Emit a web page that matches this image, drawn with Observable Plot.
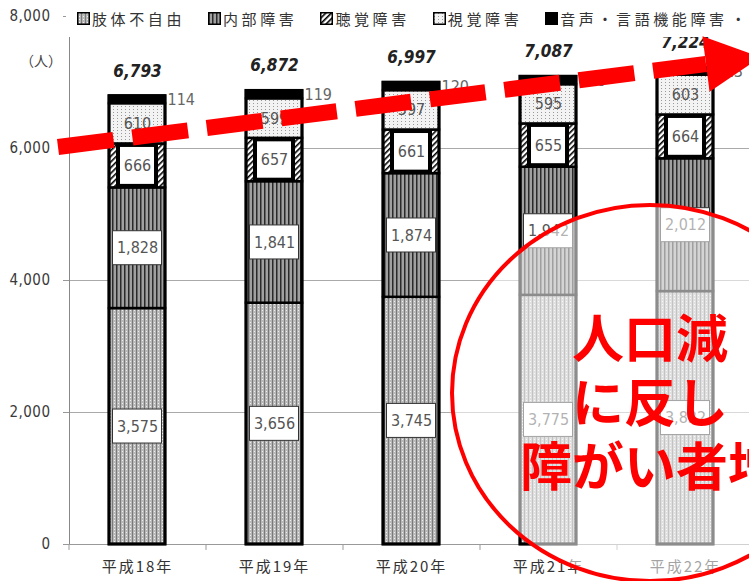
<!DOCTYPE html>
<html>
<head>
<meta charset="utf-8">
<script src="https://cdn.jsdelivr.net/npm/d3@7"></script>
<script src="https://cdn.jsdelivr.net/npm/@observablehq/plot@0.6"></script>
<style>
  body { margin: 0; background: #fff; }
  #wrap { position: relative; width: 749px; height: 581px; overflow: hidden; background: #fff; }
  #legend { position: absolute; top: 0; left: 66px; width: 683px; height: 37px; background: #fff;
    display: flex; align-items: center; padding-left: 11px; box-sizing: border-box;
    font-family: "Noto Sans CJK JP", sans-serif; font-size: 15px; letter-spacing: 3.6px; color: #333; white-space: nowrap; }
  #legend .item { display: flex; align-items: center; margin-right: 23px; }
  #legend svg { margin-right: 2px; display: block; }
  #unit { position: absolute; left: 20px; top: 50px; font-family: "Noto Sans CJK JP", sans-serif; font-size: 14px; color: #444; }
  #overlay { position: absolute; left: 0; top: 0; pointer-events: none; }
</style>
</head>
<body>
<div id="wrap"></div>
<script>
// ---- data ----
const years = ["平成18年", "平成19年", "平成20年", "平成21年", "平成22年"];
const categories = ["肢体不自由", "内部障害", "聴覚障害", "視覚障害", "音声・言語機能障害"];
const limb = [3575, 3656, 3745, 3775, 3832];
const internal = [1828, 1841, 1874, 1942, 2012];
const hearing = [666, 657, 661, 655, 664];
const visual = [610, 599, 597, 595, 603];
const speech = [114, 119, 120, 120, 113];
const totals = [6793, 6872, 6997, 7087, 7224];
const yTicks = [0, 2000, 4000, 6000, 8000];
const unitLabel = "（人）";
const annotationLines = ["人口減", "に反し", "障がい者増"];

// ---- build table ----
const series = [limb, internal, hearing, visual, speech];
const patterns = ["url(#pLimb)", "url(#pInt)", "url(#pHear)", "url(#pVis)", "#000"];
const rows = years.flatMap((yr, i) => {
  let acc = 0;
  return series.map((s, j) => {
    const v = s[i];
    const r = {year: yr, cat: categories[j], value: v, y1: acc, y2: acc + v, mid: acc + v / 2};
    acc += v;
    return r;
  });
});
const totalRows = years.map((yr, i) => ({year: yr, total: totals[i]}));
const fmt = d3.format(",");
const numFont = '"Liberation Sans Narrow", "DejaVu Sans Condensed", "Liberation Sans", sans-serif';
const cjkFont = '"Noto Sans CJK JP", sans-serif';

const segMarks = categories.map((c, j) =>
  Plot.barY(rows.filter(d => d.cat === c), {
    x: "year", y1: "y1", y2: "y2", fill: patterns[j], stroke: "#000", strokeWidth: 2.5
  })
);

const svg = Plot.plot({
  width: 749, height: 581,
  marginLeft: 69, marginRight: 0, marginTop: 16, marginBottom: 37,
  style: {fontFamily: numFont, background: "#fff"},
  x: {domain: years, range: [69, 754], paddingInner: 0.59, paddingOuter: 0.295},
  y: {domain: [0, 8000]},
  marks: [
    Plot.ruleY(yTicks.filter(t => t > 0 && t < 8000), {stroke: "#aaa", strokeWidth: 1}),
    Plot.axisY({ticks: yTicks, tickSize: 6, tickFormat: () => "", stroke: "#999", label: null}),
    Plot.axisY({ticks: yTicks, tickSize: 0, tickPadding: 19, tickFormat: fmt, fill: "#3a3a3a",
      fontSize: 15, fontFamily: numFont, label: null}),
    Plot.frame({anchor: "left", stroke: "#888"}),
    Plot.ruleY([0], {stroke: "#999"}),
    Plot.ruleX(years, {x: d => d, y1: 0, y2: -90, dx: -68.5, stroke: "#999"}),
    Plot.axisX({tickSize: 0, tickPadding: 17, fontSize: 15, fontFamily: cjkFont, fill: "#333", label: null}),
    ...segMarks,
    Plot.barY(totalRows, {x: "year", y1: 0, y2: "total", fill: "none", stroke: "#000", strokeWidth: 3}),
    // label boxes
    Plot.barY(rows.filter(d => d.cat === categories[2]), {
      x: "year", y1: "y1", y2: "y2", insetLeft: 9, insetRight: 9, insetTop: 1.5, insetBottom: 1.5,
      fill: "#fff", stroke: "#000", strokeWidth: 4
    }),
    Plot.barY(rows.filter(d => d.cat === categories[0] || d.cat === categories[1]), {
      x: "year", y1: "mid", y2: "mid", insetTop: -17, insetBottom: -17, insetLeft: 3.5, insetRight: 3.5,
      fill: "#fff", stroke: "#333", strokeWidth: 1
    }),
    Plot.text(rows.filter(d => d.cat !== categories[4]), {
      x: "year", y: "mid", text: d => fmt(d.value), fill: "#555", fontSize: 16, ariaLabel: "seg-label"
    }),
    Plot.text(rows.filter(d => d.cat === categories[4]), {
      x: "year", y: "mid", text: d => fmt(d.value), fill: "#666", fontSize: 16, dx: 30, textAnchor: "start", ariaLabel: "seg-label"
    }),
    Plot.text(totalRows, {
      x: "year", y: "total", dy: -25, text: d => fmt(d.total), fill: "#222", fontSize: 17,
      fontStyle: "italic", fontWeight: "bold", ariaLabel: "total-label"
    })
  ]
});

d3.select(svg).insert("defs", ":first-child").html(`
  <pattern id="pLimb" width="4" height="3" patternUnits="userSpaceOnUse">
    <rect width="4" height="3" fill="#b8b8b8"/>
    <rect x="0" width="1" height="3" fill="#7a7a7a"/>
    <rect x="2" y="1" width="1" height="1" fill="#efefef"/>
  </pattern>
  <pattern id="pInt" width="4" height="4" patternUnits="userSpaceOnUse">
    <rect width="4" height="4" fill="#a0a0a0"/>
    <rect x="0" width="1.5" height="4" fill="#2a2a2a"/>
  </pattern>
  <pattern id="pHear" width="4" height="4" patternUnits="userSpaceOnUse" patternTransform="rotate(45)">
    <rect width="4" height="4" fill="#fff"/>
    <rect x="0" width="1.6" height="4" fill="#000"/>
  </pattern>
  <pattern id="pVis" width="4" height="3" patternUnits="userSpaceOnUse">
    <rect width="4" height="3" fill="#f3f3f3"/>
    <rect x="1" y="1" width="1" height="1" fill="#999"/>
  </pattern>
`);
d3.select(svg).selectAll('g[aria-label="seg-label"] text').style("letter-spacing", "2px");
d3.select(svg).selectAll('g[aria-label="y-axis tick label"] text').style("letter-spacing", "0.5px");
d3.select(svg).selectAll('g[aria-label="x-axis tick label"] text').style("letter-spacing", "2px");

const wrap = document.getElementById("wrap");
wrap.appendChild(svg);

// legend
const legend = d3.select(wrap).append("div").attr("id", "legend");
categories.forEach((c, j) => {
  const it = legend.append("div").attr("class", "item");
  const s = it.append("svg").attr("width", 13).attr("height", 13);
  s.append("rect").attr("x", 0.75).attr("y", 0.75).attr("width", 11.5).attr("height", 11.5)
    .attr("fill", patterns[j]).attr("stroke", "#000").attr("stroke-width", 1.5);
  it.append("span").text(c);
});
legend.append("span").text("・").style("margin-left", "-20px");

d3.select(wrap).append("div").attr("id", "unit").text(unitLabel);

// annotation overlay
const ov = d3.select(wrap).append("svg").attr("id", "overlay").attr("width", 749).attr("height", 581);
ov.append("ellipse").attr("cx", 650).attr("cy", 393).attr("rx", 198).attr("ry", 188)
  .attr("fill", "#fff").attr("fill-opacity", 0.55).attr("stroke", "#ff0000").attr("stroke-width", 4);
annotationLines.forEach((t, i) => {
  ov.append("text").attr("x", 650).attr("y", 335 + i * 64).attr("text-anchor", "middle")
    .attr("dominant-baseline", "central").attr("fill", "#ff0000")
    .attr("font-family", cjkFont).attr("font-weight", "bold").attr("font-size", 52).text(t);
});
const start = [58, 147], end = [706, 64];
ov.append("line").attr("x1", start[0]).attr("y1", start[1]).attr("x2", end[0]).attr("y2", end[1])
  .attr("stroke", "#ff0000").attr("stroke-width", 16).attr("stroke-dasharray", "56 19");
const dx = end[0] - start[0], dy = end[1] - start[1], L = Math.hypot(dx, dy);
const ux = dx / L, uy = dy / L, px = -uy, py = ux;
const tip = [end[0] + 55 * ux, end[1] + 55 * uy];
ov.append("polygon").attr("fill", "#ff0000").attr("points", [
  [end[0] + 28 * px, end[1] + 28 * py], tip, [end[0] - 28 * px, end[1] - 28 * py]
].map(p => p.join(",")).join(" "));
</script>
</body>
</html>
